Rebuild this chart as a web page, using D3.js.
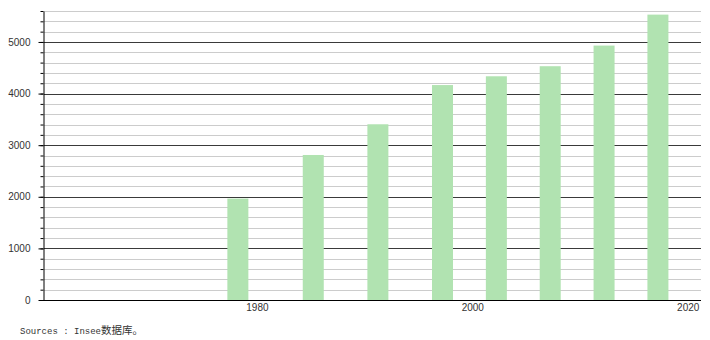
<!DOCTYPE html>
<html>
<head>
<meta charset="utf-8">
<script src="https://cdn.jsdelivr.net/npm/d3@7"></script>
<style>
body { margin: 0; background: #fff; }
</style>
</head>
<body>
<div id="chart"></div>
<script>
'use strict';

// Data
const years = [1978, 1985, 1991, 1997, 2002, 2007, 2012, 2017];
const values = [1965, 2810, 3405, 4165, 4335, 4530, 4930, 5530];
const yTicks = [0, 1000, 2000, 3000, 4000, 5000];
const xTicks = [1980, 2000, 2020];
const sourceLatin = "Sources : Insee";
const sourceCjk = "数据库。";

const width = 710, height = 340;
const plotLeft = 44, plotRight = 701, plotTop = 11, plotBottom = 300;

const svg = d3.select("#chart")
    .append("svg")
    .attr("width", width)
    .attr("height", height);

const x = d3.scaleLinear().domain([1960, 2021]).range([plotLeft, plotRight]);
const y = d3.scaleLinear().domain([0, 5600]).range([plotBottom, plotTop]);

const minorTicks = d3.range(0, 5601, 200);
const crisp = v => Math.round(v) + 0.5;

// Horizontal grid: light minor lines every 200, dark lines every 1000
svg.append("g")
    .selectAll("line")
    .data(minorTicks.filter(d => d > 0))
    .enter()
    .append("line")
    .attr("x1", plotLeft)
    .attr("x2", plotRight)
    .attr("y1", d => crisp(y(d)))
    .attr("y2", d => crisp(y(d)))
    .attr("stroke", d => d % 1000 === 0 ? "#3a3a3a" : "#cccccc")
    .attr("stroke-width", 1);

// Bars
svg.append("g")
    .selectAll("rect")
    .data(years)
    .enter()
    .append("rect")
    .attr("x", d => x(d) - 10.5)
    .attr("width", 21)
    .attr("y", (d, i) => y(values[i]))
    .attr("height", (d, i) => y(0) - y(values[i]))
    .attr("fill", "#b1e3b1");

// Minor ticks on the left axis
svg.append("g")
    .attr("transform", "translate(43.5,0)")
    .call(d3.axisLeft(y).tickValues(minorTicks).tickSize(3).tickSizeOuter(0).tickFormat(""))
    .call(g => g.selectAll("line").attr("stroke", "#000"))
    .call(g => g.select(".domain").attr("stroke", "#000"));

// Major ticks and labels
svg.append("g")
    .attr("transform", "translate(43.5,0)")
    .call(d3.axisLeft(y).tickValues(yTicks).tickSize(5).tickSizeOuter(0).tickPadding(8).tickFormat(d3.format("d")))
    .call(g => g.select(".domain").remove())
    .call(g => g.selectAll("line").attr("stroke", "#000"))
    .call(g => g.selectAll("text")
        .attr("fill", "#333")
        .style("font-family", "'Liberation Sans', Arial, sans-serif")
        .style("font-size", "10px"));

// Bottom axis line
svg.append("line")
    .attr("x1", plotLeft - 1)
    .attr("x2", plotRight)
    .attr("y1", crisp(y(0)))
    .attr("y2", crisp(y(0)))
    .attr("stroke", "#000");

// Year labels
svg.append("g")
    .selectAll("text")
    .data(xTicks)
    .enter()
    .append("text")
    .attr("x", d => x(d) - 2)
    .attr("y", 311)
    .attr("text-anchor", "middle")
    .attr("fill", "#333")
    .style("font-family", "'Liberation Sans', Arial, sans-serif")
    .style("font-size", "10px")
    .text(d => d);

// Source note
const source = svg.append("text")
    .attr("x", 20)
    .attr("y", 334)
    .attr("fill", "#333")
    .style("font-family", "'Liberation Mono', 'DejaVu Sans Mono', monospace")
    .style("font-size", "9px");

source.append("tspan").text(sourceLatin);
source.append("tspan")
    .style("font-family", "'Noto Sans CJK SC', sans-serif")
    .style("font-size", "10.5px")
    .text(sourceCjk);
</script>
</body>
</html>
